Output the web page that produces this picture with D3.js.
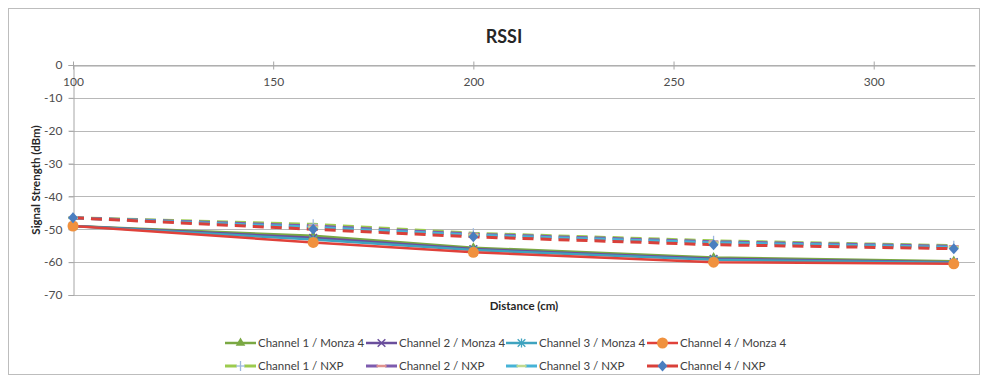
<!DOCTYPE html>
<html>
<head>
<meta charset="utf-8">
<script src="https://cdn.jsdelivr.net/npm/d3@7"></script>
<style>
  html, body { margin: 0; padding: 0; background: #fff; }
  svg { display: block; font-family: Lato, "Open Sans", sans-serif; }
</style>
</head>
<body>
<svg id="chart" width="987" height="382"></svg>
<script>
// Distance (cm) at which each reading was taken
const distances = [100, 160, 200, 260, 320];

// RSSI readings (dBm), Monza 4 tag
const ch1Monza = [-49, -52, -55.6, -58.6, -59.7];
const ch2Monza = [-49, -52.6, -56, -59, -60];
const ch3Monza = [-49, -53.1, -56.3, -59.3, -60.2];
const ch4Monza = [-49, -54, -57, -60, -60.5];

// RSSI readings (dBm), NXP tag
const ch1Nxp = [-46.5, -48.5, -51.2, -53.5, -55];
const ch2Nxp = [-46.5, -49, -51.5, -53.8, -55.2];
const ch3Nxp = [-46.5, -49.4, -51.8, -54.1, -55.5];
const ch4Nxp = [-46.5, -50, -52.3, -54.7, -55.9];

const seriesNames = [
  "Channel 1 / Monza 4", "Channel 2 / Monza 4", "Channel 3 / Monza 4", "Channel 4 / Monza 4",
  "Channel 1 / NXP", "Channel 2 / NXP", "Channel 3 / NXP", "Channel 4 / NXP"
];
const seriesValues = [ch1Monza, ch2Monza, ch3Monza, ch4Monza, ch1Nxp, ch2Nxp, ch3Nxp, ch4Nxp];

const xTicks = [100, 150, 200, 250, 300];
const yTicks = [0, -10, -20, -30, -40, -50, -60, -70];

// Styling per series: line colour, dash, marker shape and marker colour
const styles = [
  { color: "#7AA843", dash: null, marker: "triangle", mcolor: "#7AA843" },
  { color: "#6A4E9C", dash: null, marker: "x", mcolor: "#6A4E9C" },
  { color: "#3FA3BF", dash: null, marker: "star", mcolor: "#3FA3BF" },
  { color: "#E0413A", dash: null, marker: "circle", mcolor: "#F0913E" },
  { color: "#9CCB4E", dash: "11,7", marker: "plus", mcolor: "#9DB8DE" },
  { color: "#7D5BAE", dash: "11,7", marker: "dash", mcolor: "#E0918E" },
  { color: "#46B3D6", dash: "11,7", marker: "dash", mcolor: "#BFD98F" },
  { color: "#D9403A", dash: "11,7", marker: "diamond", mcolor: "#4A7EC0" }
];

const svg = d3.select("#chart");

// chart frame
svg.append("rect")
  .attr("x", 8.5).attr("y", 8.5)
  .attr("width", 971).attr("height", 366)
  .attr("fill", "#fff").attr("stroke", "#BDBDBD");

const plot = { left: 73, right: 975, top: 65, bottom: 295 };

const x = d3.scaleLinear().domain([100, 325.3]).range([plot.left, plot.right]);
const y = d3.scaleLinear().domain([-70, 0]).range([plot.bottom, plot.top]);

// title
svg.append("text")
  .attr("x", 504).attr("y", 43)
  .attr("text-anchor", "middle")
  .attr("font-size", 18).attr("font-weight", "bold")
  .attr("fill", "#262626")
  .text("RSSI");

// horizontal gridlines
svg.append("g")
  .selectAll("line")
  .data(yTicks)
  .join("line")
  .attr("x1", plot.left - 4).attr("x2", plot.right)
  .attr("y1", d => Math.round(y(d)) + 0.5).attr("y2", d => Math.round(y(d)) + 0.5)
  .attr("stroke", "#B8B8B8").attr("stroke-width", 1);

// y axis
const yAxis = svg.append("g")
  .attr("transform", `translate(${plot.left + 0.5},0)`)
  .call(d3.axisLeft(y).tickValues(yTicks).tickSize(5).tickPadding(6).tickFormat(d3.format("d")));
yAxis.select(".domain").attr("stroke", "#A6A6A6");
yAxis.selectAll(".tick line").attr("stroke", "#A6A6A6");
yAxis.selectAll(".tick text")
  .attr("font-size", 12).attr("fill", "#4D4D4D")
  .attr("font-family", "Lato, 'Open Sans', sans-serif")
  .text(d => d === 0 ? "0" : "-" + Math.abs(d));

// x axis sits on the zero line, labels below it
const xAxis = svg.append("g")
  .attr("transform", `translate(0,${Math.round(y(0)) + 0.5})`)
  .call(d3.axisBottom(x).tickValues(xTicks).tickSize(0).tickPadding(12).tickFormat(d3.format("d")));
xAxis.select(".domain").attr("stroke", "#A6A6A6");
xAxis.selectAll(".tick line").remove();
xAxis.selectAll(".tick").append("line")
  .attr("y1", -4).attr("y2", 4)
  .attr("stroke", "#A6A6A6");
xAxis.selectAll(".tick text")
  .attr("font-size", 12).attr("fill", "#4D4D4D")
  .attr("font-family", "Lato, 'Open Sans', sans-serif");

// axis titles
svg.append("text")
  .attr("transform", `translate(40,${(plot.top + plot.bottom) / 2}) rotate(-90)`)
  .attr("text-anchor", "middle")
  .attr("font-size", 11.5).attr("font-weight", "bold").attr("fill", "#262626")
  .text("Signal Strength (dBm)");

svg.append("text")
  .attr("x", 524).attr("y", 310)
  .attr("text-anchor", "middle")
  .attr("font-size", 11.5).attr("font-weight", "bold").attr("fill", "#262626")
  .text("Distance (cm)");

// marker drawing
function drawMarker(g, shape, color, cx, cy) {
  const sym = (type, size) => g.append("path")
    .attr("d", d3.symbol().type(type).size(size)())
    .attr("transform", `translate(${cx},${cy})`);
  if (shape === "circle") {
    g.append("circle").attr("cx", cx).attr("cy", cy).attr("r", 5.5).attr("fill", color);
  } else if (shape === "diamond") {
    g.append("path")
      .attr("d", `M${cx},${cy - 5.5}L${cx + 5},${cy}L${cx},${cy + 5.5}L${cx - 5},${cy}Z`)
      .attr("fill", color);
  } else if (shape === "triangle") {
    sym(d3.symbolTriangle, 40).attr("fill", color);
  } else if (shape === "x") {
    sym(d3.symbolTimes, 40).attr("fill", "none").attr("stroke", color).attr("stroke-width", 1.5);
  } else if (shape === "star") {
    sym(d3.symbolTimes, 40).attr("fill", "none").attr("stroke", color).attr("stroke-width", 1.3);
    g.append("line").attr("x1", cx).attr("x2", cx).attr("y1", cy - 4.5).attr("y2", cy + 4.5)
      .attr("stroke", color).attr("stroke-width", 1.3);
  } else if (shape === "plus") {
    g.append("line").attr("x1", cx - 4.5).attr("x2", cx + 4.5).attr("y1", cy).attr("y2", cy)
      .attr("stroke", color).attr("stroke-width", 1.3);
    g.append("line").attr("x1", cx).attr("x2", cx).attr("y1", cy - 5).attr("y2", cy + 5)
      .attr("stroke", color).attr("stroke-width", 1.3);
  } else if (shape === "dash") {
    g.append("line").attr("x1", cx - 5).attr("x2", cx + 5).attr("y1", cy).attr("y2", cy)
      .attr("stroke", color).attr("stroke-width", 2.5);
  }
}

const line = d3.line().x(d => x(d[0])).y(d => y(d[1]));

// series lines then markers
const seriesG = svg.append("g");
seriesValues.forEach((vals, i) => {
  const st = styles[i];
  const pts = distances.map((d, j) => [d, vals[j]]);
  seriesG.append("path")
    .datum(pts)
    .attr("d", line)
    .attr("fill", "none")
    .attr("stroke", st.color)
    .attr("stroke-width", st.dash ? 3 : 2.5)
    .attr("stroke-dasharray", st.dash)
    .attr("stroke-linejoin", "round");
});
seriesValues.forEach((vals, i) => {
  const st = styles[i];
  const mg = seriesG.append("g");
  distances.forEach((d, j) => drawMarker(mg, st.marker, st.mcolor, x(d), y(vals[j])));
});

// legend: two rows of four columns
const legendCols = [225, 366, 506, 647];
const legendRows = [343, 366];
const keyLen = 31;
const legend = svg.append("g");
seriesNames.forEach((name, i) => {
  const lx = legendCols[i % 4];
  const ly = legendRows[Math.floor(i / 4)];
  const st = styles[i];
  const lg = legend.append("g");
  if (st.dash) {
    lg.append("line").attr("x1", lx).attr("x2", lx + keyLen * 0.38).attr("y1", ly).attr("y2", ly)
      .attr("stroke", st.color).attr("stroke-width", 3);
    lg.append("line").attr("x1", lx + keyLen * 0.62).attr("x2", lx + keyLen).attr("y1", ly).attr("y2", ly)
      .attr("stroke", st.color).attr("stroke-width", 3);
  } else {
    lg.append("line").attr("x1", lx).attr("x2", lx + keyLen).attr("y1", ly).attr("y2", ly)
      .attr("stroke", st.color).attr("stroke-width", 2.5);
  }
  drawMarker(lg, st.marker, st.mcolor, lx + keyLen / 2, ly);
  lg.append("text")
    .attr("x", lx + keyLen + 2).attr("y", ly + 4)
    .attr("font-size", 11.5).attr("fill", "#404040")
    .text(name);
});
</script>
</body>
</html>
